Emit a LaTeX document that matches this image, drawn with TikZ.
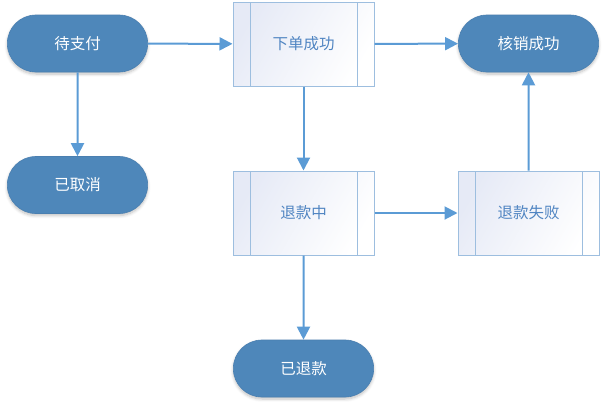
\documentclass[tikz,border=0pt]{standalone}
\usepackage{fontspec}
\newfontfamily\cjk{Noto Sans CJK SC}
\usetikzlibrary{shapes.misc,arrows.meta,shadows.blur}
\definecolor{stadfill}{HTML}{4E87BA}
\definecolor{stadline}{HTML}{4A7FB0}
\definecolor{arrowc}{HTML}{5B9BD5}
\definecolor{boxline}{HTML}{9DBEDF}
\definecolor{boxL}{HTML}{E6EAF6}
\definecolor{boxtext}{HTML}{5085C2}
\begin{document}
\begin{tikzpicture}[x=1pt,y=-1pt,
  stad/.style={rounded rectangle, fill=stadfill, draw=stadline, line width=0.6pt,
    minimum width=147pt, minimum height=57pt, text=white, font=\cjk\fontsize{15.5}{17}\selectfont,
    blur shadow={shadow xshift=0pt, shadow yshift=-2pt, shadow blur radius=3pt, shadow opacity=25, shadow blur steps=6}},
  procbox/.style={rectangle, draw=boxline, line width=1pt, left color=boxL, right color=white, shading angle=60,
    minimum width=141pt, minimum height=84pt, text=boxtext, font=\cjk\fontsize{15.5}{17}\selectfont,
    path picture={
      \draw[boxline, line width=1pt] ([xshift=17pt]path picture bounding box.north west) -- ([xshift=17pt]path picture bounding box.south west);
      \draw[boxline, line width=1pt] ([xshift=-17pt]path picture bounding box.north east) -- ([xshift=-17pt]path picture bounding box.south east);
    }},
  arr/.style={draw=arrowc, line width=2pt, -{Triangle[length=13pt,width=13pt]}}
]
\useasboundingbox (0,0) rectangle (608,408);
\node[stad] (pay) at (77.5,43.5) {待支付};
\node[procbox] (order) at (303.5,44) {下单成功};
\node[stad] (done) at (528.5,43.5) {核销成功};
\node[stad] (cancel) at (77.5,185) {已取消};
\node[procbox] (refunding) at (303.5,213) {退款中};
\node[procbox] (fail) at (528.5,213) {退款失败};
\node[stad] (refunded) at (303.5,368.5) {已退款};
\draw[arr] (pay) -- (order);
\draw[arr] (order) -- (done);
\draw[arr] (pay) -- (cancel);
\draw[arr] (order) -- (refunding);
\draw[arr] (refunding) -- (fail);
\draw[arr] (fail) -- (done);
\draw[arr] (refunding) -- (refunded);
\end{tikzpicture}
\end{document}
